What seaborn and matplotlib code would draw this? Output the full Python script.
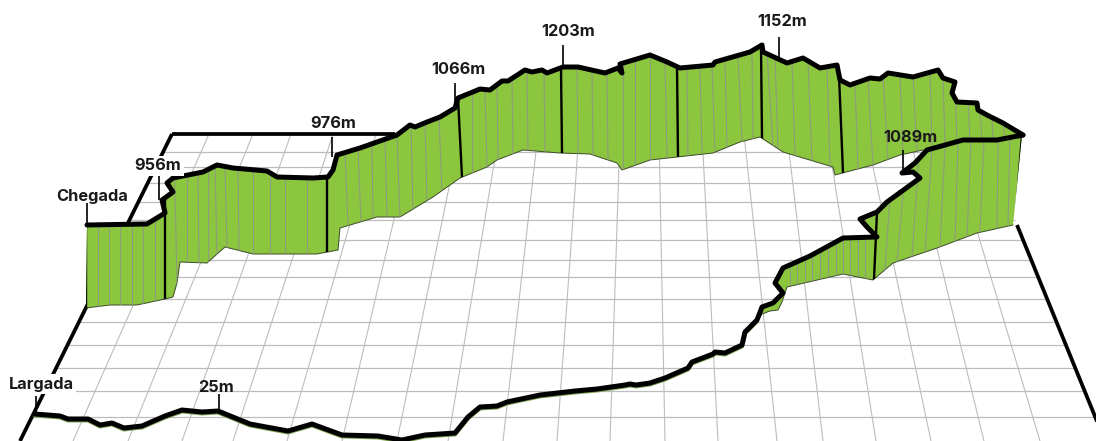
import numpy as np
import pandas as pd
import matplotlib.pyplot as plt
import seaborn as sns

sns.set_style("white")
plt.rcParams['font.family'] = ['Inter', 'DejaVu Sans']

# Route from the start up to the far right corner
front_x = [35, 60, 68, 88, 100, 112, 124, 142, 165, 182, 202, 218, 250, 288, 312, 342, 378, 402, 425, 455,
           468, 480, 497, 507, 540, 575, 597, 625, 630, 636, 650, 665, 688, 692, 713, 715, 725, 742, 745,
           757, 762, 773, 783, 775, 783, 810, 843, 877, 867, 860, 877, 887, 920, 913, 902, 915, 927, 963, 997, 1023]
front_y = [414, 416, 419, 419, 425, 423, 428, 426, 416, 410, 412, 411, 424, 431, 424, 435, 436, 440, 435, 433,
           417, 407, 406, 402, 395, 391, 389, 385, 384, 385, 383, 378, 368, 362, 354, 352, 353, 345, 332,
           320, 307, 303, 293, 283, 268, 256, 238, 237, 227, 219, 212, 202, 178, 172, 173, 163, 150, 140, 140, 135]

# Route from the far right corner back to the finish
back_x = [1023, 1003, 987, 978, 977, 957, 952, 955, 943, 938, 913, 888, 880, 870, 850, 840, 837, 820, 803, 787,
          763, 762, 750, 715, 713, 680, 667, 650, 620, 622, 618, 605, 578, 563, 547, 542, 532, 525, 508, 502, 490, 480, 458, 455,
          440, 427, 415, 410, 397, 360, 337, 333, 328, 313, 277, 267, 233, 217, 203, 173, 167, 173, 162, 165, 147, 87]
back_y = [135, 123, 115, 110, 103, 102, 93, 82, 78, 70, 77, 73, 79, 78, 85, 80, 65, 68, 58, 63,
          52, 45, 52, 62, 65, 68, 62, 55, 64, 73, 68, 73, 67, 67, 73, 70, 72, 70, 81, 81, 90, 89, 98, 108,
          117, 122, 127, 125, 135, 148, 155, 170, 177, 178, 177, 171, 168, 165, 172, 178, 183, 192, 200, 213, 224, 225]

# Lower edges of the two green walls
back_base_x = [86, 110, 137, 165, 173, 177, 180, 207, 225, 253, 317, 338, 340, 377, 400, 433, 460, 487, 497, 523,
               560, 590, 617, 622, 650, 677, 713, 740, 760, 783, 833, 835, 873, 900, 923]
back_base_y = [308, 305, 305, 299, 297, 283, 262, 263, 247, 254, 254, 250, 228, 217, 217, 197, 178, 167, 160, 150,
               153, 154, 163, 170, 160, 157, 153, 142, 137, 152, 167, 175, 165, 155, 150]
front_base_x = [757, 762, 770, 778, 782, 787, 843, 873, 893, 937, 977, 1013, 1022]
front_base_y = [320, 314, 311, 310, 302, 287, 274, 280, 263, 248, 233, 225, 135]

# Thin and heavy wall ribs: x on the route, x on the lower edge
back_rib_top = [98, 109, 120, 132, 143, 155, 175, 187, 198, 208, 215, 225, 238, 253, 270, 285, 307,
                345, 358, 372, 385, 397, 411, 425, 439, 472, 485, 497, 512, 527, 544,
                577, 592, 607, 623, 635, 650, 665, 687, 700, 712, 725, 738, 752,
                767, 775, 792, 808, 827, 855, 868, 883, 900, 913, 930, 943, 955, 968, 980, 992, 1003]
back_rib_bot = [98, 109, 120, 132, 143, 155, 177, 187, 199, 208, 217, 227, 239, 253, 270, 285, 307,
                348, 361, 373, 387, 400, 413, 427, 442, 472, 487, 498, 513, 528, 545,
                578, 593, 608, 623, 635, 650, 667, 688, 702, 715, 727, 742, 753,
                773, 778, 795, 812, 830, 858, 873, 888, 903, 917, 932, 945, 957, 970, 982, 993, 1005]
back_heavy_top = [86, 165, 327, 458, 561, 677, 761, 839]
back_heavy_bot = [86, 165, 327, 462, 562, 678, 762, 843]
front_rib_top = [790, 797, 805, 812, 820, 828, 836, 843, 850, 858, 865, 890, 905, 918, 932, 945, 958, 971, 984, 998, 1010]
front_rib_bot = [790, 797, 805, 812, 820, 828, 836, 843, 850, 858, 865, 885, 897, 912, 925, 940, 955, 967, 980, 997, 1008]
front_heavy_top = [877, 1022]
front_heavy_bot = [874, 1015]

# Floor grid in perspective
grid_rows = [152, 167, 183, 202, 220, 240, 260, 277, 299, 322, 345, 368, 391, 417]
grid_back_x = [209, 253, 291, 333, 376, 414, 460, 499, 538, 579, 620, 659, 702, 744, 787, 827, 866, 909, 948]
grid_front_x = [73, 128, 182, 233, 287, 342, 397, 448, 503, 557, 610, 665, 718, 777, 823, 876, 931, 984, 1040]
grid_top, grid_bottom = 134, 441
left_border_x = [172, 20]
right_border_x = [980, 1105]
back_border_end = 395

# Elevation labels
labels = ['Chegada', '956m', '976m', '1066m', '1203m', '1152m', '1089m', 'Largada', '25m']
label_x = [92, 158, 333, 458, 568, 782, 910, 41, 216]
label_y = [196, 166, 124, 69, 32, 21, 137, 384, 387]
stem_x = [87, 159, 332, 455, 563, 779, 903, 36, 219]
stem_top = [203, 175, 137, 83, 45, 37, 150, 396, 394]
stem_bottom = [225, 200, 157, 105, 68, 57, 173, 412, 412]

GREEN = '#8cc63f'
WALL_RIB = '#8d9c7c'
GRID = '#bdbdbd'


def edge_y(x, xs, ys):
    order = np.argsort(xs)
    return np.interp(x, np.array(xs)[order], np.array(ys)[order])


def draw_segments(ax, x0, y0, x1, y1, color, lw, zorder, clip=None):
    rows = []
    for i in range(len(x0)):
        rows.append((i, x0[i], y0[i]))
        rows.append((i, x1[i], y1[i]))
    df = pd.DataFrame(rows, columns=['seg', 'x', 'y'])
    before = len(ax.lines)
    sns.lineplot(data=df, x='x', y='y', units='seg', estimator=None, sort=False,
                 color=color, linewidth=lw, ax=ax, legend=False, zorder=zorder)
    for line in ax.lines[before:]:
        line.set_solid_capstyle('butt')
        if clip is not None:
            line.set_clip_path(clip)


def draw_ribs(ax, top_x, bot_x, route_x, route_y, base_x, base_y, color, lw, zorder, clip):
    top_x, bot_x = np.array(top_x, float), np.array(bot_x, float)
    top_y = edge_y(top_x, route_x, route_y)
    bot_y = edge_y(bot_x, base_x, base_y)
    # run a little past both edges, the wall outline trims them
    dx, dy = bot_x - top_x, bot_y - top_y
    draw_segments(ax, top_x - 0.15 * dx, top_y - 0.15 * dy, bot_x + 0.15 * dx, bot_y + 0.15 * dy,
                  color, lw, zorder, clip)


fig, ax = plt.subplots(figsize=(10.96, 4.41), dpi=100)
fig.subplots_adjust(0, 0, 1, 1)

# floor
rows = np.array(grid_rows, float)
row_left = np.interp(rows, [grid_top, grid_bottom], left_border_x)
row_right = np.interp(rows, [grid_top, grid_bottom], right_border_x)
draw_segments(ax, row_left, rows, row_right, rows, GRID, 0.9, 1)
draw_segments(ax, grid_back_x, [grid_top] * len(grid_back_x), grid_front_x, [grid_bottom] * len(grid_front_x), GRID, 0.8, 1)

# heavy floor border
draw_segments(ax, [left_border_x[0], left_border_x[0], 1017],
              [grid_top, grid_top, 225],
              [left_border_x[1], back_border_end, right_border_x[1]],
              [grid_bottom, grid_top, grid_bottom], 'black', 2.7, 1.5)

# green walls
back_edge_x = back_x + back_base_x + [963, 997]
back_edge_y = back_y + back_base_y + [140, 140]
back_patch = ax.fill(back_edge_x, back_edge_y, color=GREEN, lw=0, zorder=2)[0]
sns.lineplot(x=back_base_x, y=back_base_y, sort=False, estimator=None, color='#3c4a2a', linewidth=0.7, ax=ax, zorder=2.5)

# front wall starts where the route climbs
start = front_x.index(757)
front_edge_x = front_x[start:] + front_base_x[::-1]
front_edge_y = front_y[start:] + front_base_y[::-1]
front_patch = ax.fill(front_edge_x, front_edge_y, color=GREEN, lw=0, zorder=2)[0]
sns.lineplot(x=front_base_x[:-1], y=front_base_y[:-1], sort=False, estimator=None, color='#3c4a2a', linewidth=0.7, ax=ax, zorder=2.5)

lower_back_x = back_base_x + [963, 997, 1023]
lower_back_y = back_base_y + [140, 140, 135]
draw_ribs(ax, back_rib_top, back_rib_bot, back_x, back_y, lower_back_x, lower_back_y, WALL_RIB, 0.8, 3, back_patch)
draw_ribs(ax, front_rib_top, front_rib_bot, front_x[start:], front_y[start:], front_base_x[:-1], front_base_y[:-1], WALL_RIB, 0.8, 3, front_patch)
draw_ribs(ax, back_heavy_top, back_heavy_bot, back_x, back_y, lower_back_x, lower_back_y, 'black', 1.7, 4, back_patch)
draw_ribs(ax, front_heavy_top, front_heavy_bot, front_x[start:], front_y[start:], front_base_x[:-1], front_base_y[:-1], 'black', 1.7, 4, front_patch)

# faint green edge under the flat part of the route
sns.lineplot(x=front_x[:start + 1], y=np.array(front_y[:start + 1]) + 1.4, sort=False, estimator=None,
             color='#7fa050', linewidth=3.0, ax=ax, zorder=4.5)

# route
for xs, ys in [(front_x, front_y), (back_x, back_y)]:
    sns.lineplot(x=xs, y=ys, sort=False, estimator=None, color='black', linewidth=3.6, ax=ax, zorder=5)

# labels and stems
draw_segments(ax, stem_x, stem_top, stem_x, stem_bottom, 'black', 1.2, 4.8)
for name, lx, ly in zip(labels, label_x, label_y):
    box = None
    if name in ('956m', 'Largada'):
        box = dict(facecolor='white', edgecolor='none', pad=1.5)
    ax.text(lx, ly, name, ha='center', va='center', fontsize=11.8, fontweight='bold', color='#1a1a1a', zorder=6, bbox=box)

ax.set_xlim(0, 1096)
ax.set_ylim(441, 0)
ax.axis('off')

plt.savefig('out.png', dpi=100)
plt.close()
